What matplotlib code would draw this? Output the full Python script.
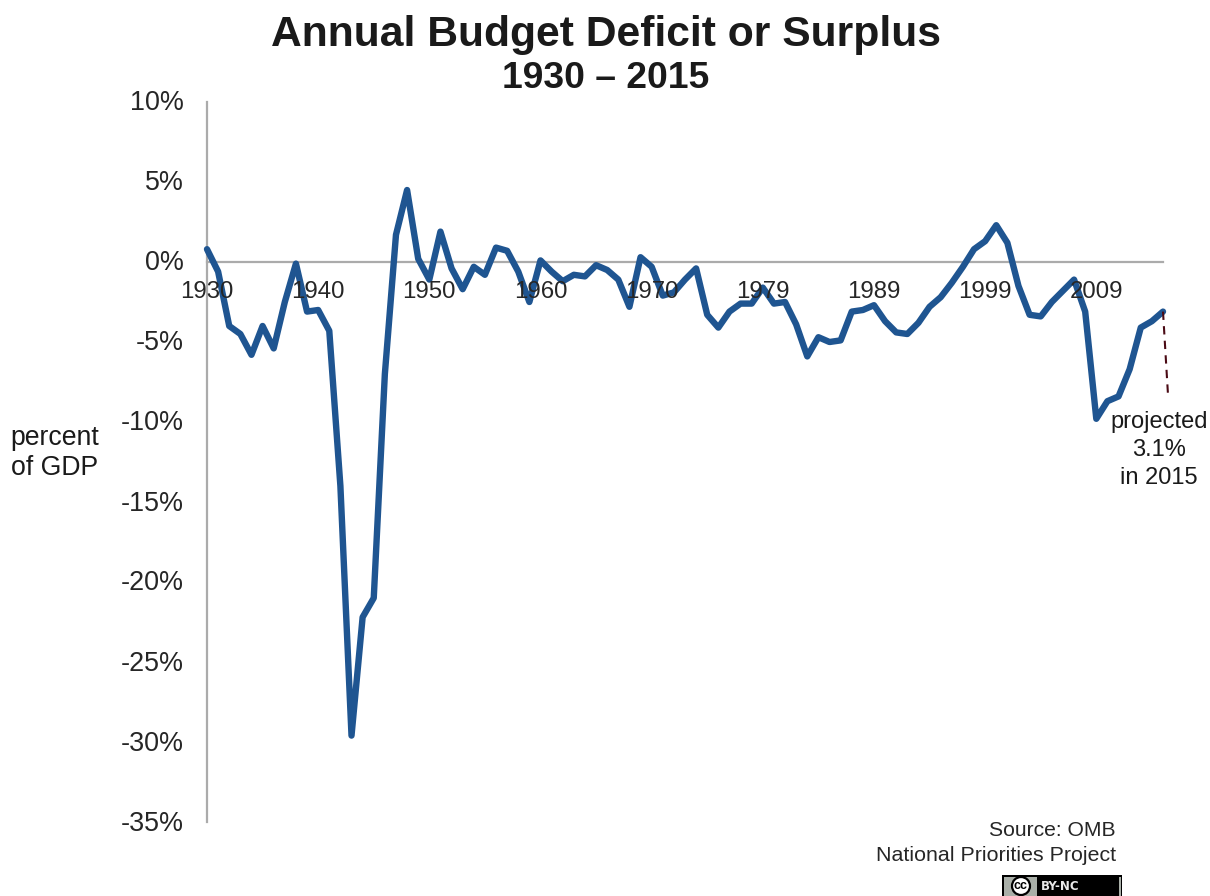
import matplotlib
matplotlib.use("Agg")
import matplotlib.pyplot as plt
from matplotlib.patches import Rectangle, Circle
from matplotlib.transforms import ScaledTranslation

plt.rcParams['font.family'] = ['Liberation Sans', 'DejaVu Sans']

# fiscal years, with the 1976 transition quarter as its own category
years = [str(y) for y in range(1930, 1977)] + ["TQ"] + [str(y) for y in range(1977, 2016)]

deficit = [
    0.8, -0.6, -4.0, -4.5, -5.8, -4.0, -5.4, -2.5, -0.1, -3.1,
    -3.0, -4.3, -14.0, -29.6, -22.2, -21.0, -7.0, 1.7, 4.5, 0.2,
    -1.1, 1.9, -0.4, -1.7, -0.3, -0.8, 0.9, 0.7, -0.6, -2.5,
    0.1, -0.6, -1.2, -0.8, -0.9, -0.2, -0.5, -1.1, -2.8, 0.3,
    -0.3, -2.1, -1.9, -1.1, -0.4, -3.3, -4.1, -3.1, -2.6, -2.6,
    -1.6, -2.6, -2.5, -3.9, -5.9, -4.7, -5.0, -4.9, -3.1, -3.0,
    -2.7, -3.7, -4.4, -4.5, -3.8, -2.8, -2.2, -1.3, -0.3, 0.8,
    1.3, 2.3, 1.2, -1.5, -3.3, -3.4, -2.5, -1.8, -1.1, -3.1,
    -9.8, -8.7, -8.4, -6.7, -4.1, -3.7, -3.1,
]

shown_years = ["1930", "1940", "1950", "1960", "1970", "1979", "1989", "1999", "2009"]
shown_pos = [0, 10, 20, 30, 40, 50, 60, 70, 80]
y_ticks = [10, 5, 0, -5, -10, -15, -20, -25, -30, -35]

# projection stub after the last year
proj_x = [86, 86.45]
proj_y = [-3.1, -8.3]

W, H = 1210, 896
fig = plt.figure(figsize=(W / 100, H / 100), dpi=100)
ax = fig.add_axes([207 / W, 1 - 822 / H, (1163 - 207) / W, (822 - 102) / H])

ax.plot(range(len(years)), deficit, color="#1F5591", linewidth=4.6,
        solid_joinstyle="round", solid_capstyle="round", zorder=2, clip_on=False)
ax.plot(proj_x, proj_y, color="#4A0A14", linewidth=1.5, linestyle=(0, (4, 3)),
        zorder=2, clip_on=False)

ax.set_xlim(0, 86)
ax.set_ylim(-35, 10)
ax.set_axisbelow(False)

for side in ["top", "right"]:
    ax.spines[side].set_visible(False)
ax.spines["left"].set_color("#ABABAB")
ax.spines["left"].set_linewidth(1.6)
ax.spines["left"].set_zorder(1)
ax.spines["bottom"].set_position(("data", 0))
ax.spines["bottom"].set_color("#ABABAB")
ax.spines["bottom"].set_linewidth(1.6)
ax.spines["bottom"].set_zorder(1)

ax.set_xticks(shown_pos)
ax.set_xticklabels(shown_years)
ax.set_yticks(y_ticks)
ax.set_yticklabels([f"{v}%" for v in y_ticks])
ax.tick_params(axis="x", length=0, pad=14, labelsize=17.3, labelcolor="#262626")
ax.tick_params(axis="y", length=0, pad=17, labelsize=19.4, labelcolor="#262626")

# y labels sit slightly above their gridline position
nudge = ScaledTranslation(0, 1.5 / 100, fig.dpi_scale_trans)
for label in ax.get_yticklabels():
    label.set_transform(label.get_transform() + nudge)

fig.text(606 / W, 1 - 35 / H, "Annual Budget Deficit or Surplus", fontsize=30.7,
         fontweight="bold", color="#1A1A1A", ha="center", va="center")
fig.text(606 / W, 1 - 78 / H, "1930 – 2015", fontsize=26.8,
         fontweight="bold", color="#1A1A1A", ha="center", va="center")

fig.text(55 / W, 1 - 453 / H, "percent\nof GDP", fontsize=19.2, color="#1A1A1A",
         ha="center", va="center", linespacing=1.2)
fig.text(1159 / W, 1 - 450 / H, "projected\n3.1%\nin 2015", fontsize=17, color="#1A1A1A",
         ha="center", va="center", linespacing=1.34)

fig.text(1116 / W, 1 - 830 / H, "Source: OMB", fontsize=15.2, color="#262626",
         ha="right", va="center")
fig.text(1116 / W, 1 - 855 / H, "National Priorities Project", fontsize=15.4, color="#262626",
         ha="right", va="center")

# licence badge along the bottom edge
badge = fig.add_axes([0, 0, 1, 1], facecolor="none")
badge.set_xlim(0, W)
badge.set_ylim(H, 0)
badge.axis("off")
badge.add_patch(Rectangle((1002, 875), 120, 24, facecolor="black", edgecolor="none"))
badge.add_patch(Rectangle((1003.5, 877), 117, 24, facecolor="#A9AFA8", edgecolor="none"))
badge.add_patch(Rectangle((1037, 877), 82, 24, facecolor="black", edgecolor="none"))
badge.add_patch(Circle((1021, 886), 9, facecolor="white", edgecolor="black", linewidth=1.6))
badge.text(1021, 886, "cc", fontsize=9, fontweight="bold", color="black", ha="center", va="center")
badge.text(1041, 887, "BY-NC", fontsize=8.5, fontweight="bold", color="#E8E8E8",
           family="DejaVu Sans", ha="left", va="center")

plt.savefig("out.png", dpi=100)
